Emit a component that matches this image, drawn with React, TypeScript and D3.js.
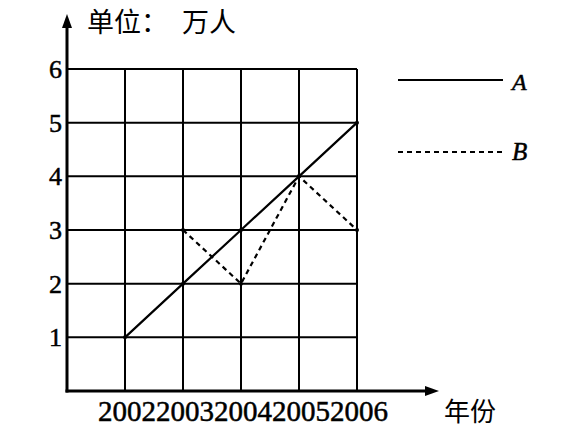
import React from "react";
import * as d3 from "d3";

const years = [2002, 2003, 2004, 2005, 2006];
const yTicks = [1, 2, 3, 4, 5, 6];
const seriesA = [1, 2, 3, 4, 5];
const seriesB = [null, 3, 2, 4, 3];
const yearLabels = ["2002", "2003", "2004", "2005", "2006"];
const legendNames = ["A", "B"];

export default function App() {
  const W = 580, H = 434;
  const x = d3.scaleLinear().domain([2001, 2006]).range([67, 357]);
  const y = d3.scaleLinear().domain([0, 6]).range([391, 69]);
  const serif = "'Liberation Serif', 'DejaVu Serif', serif";
  const cjk = "'Noto Sans CJK SC', sans-serif";

  const lineGen = d3
    .line<{ yr: number; v: number | null }>()
    .defined((d) => d.v != null)
    .x((d) => x(d.yr))
    .y((d) => y(d.v as number));

  const dataA = years.map((yr, i) => ({ yr, v: seriesA[i] }));
  const dataB = years.map((yr, i) => ({ yr, v: seriesB[i] }));
  const heavy = { stroke: "#000", strokeWidth: 0.5 };

  return (
    <svg width={W} height={H} style={{ position: "absolute", left: 0, top: 0, background: "#fff" }}>
      <rect width={W} height={H} fill="#fff" />
      {years.map((yr) => (
        <line key={"v" + yr} x1={x(yr)} x2={x(yr)} y1={y(0)} y2={y(6)} stroke="#000" strokeWidth={2} />
      ))}
      {yTicks.map((t) => (
        <line key={"h" + t} x1={x(2001)} x2={x(2006)} y1={y(t)} y2={y(t)} stroke="#000" strokeWidth={2} />
      ))}
      <line x1={x(2001)} x2={x(2001)} y1={y(0) + 1.5} y2={22} stroke="#000" strokeWidth={3} />
      <path d={`M${x(2001)},14 L${x(2001) - 5},28 L${x(2001) + 5},28 Z`} fill="#000" />
      <line x1={x(2001) - 1.5} x2={430} y1={y(0)} y2={y(0)} stroke="#000" strokeWidth={3} />
      <path d={`M439,${y(0)} L425,${y(0) - 5} L425,${y(0) + 5} Z`} fill="#000" />

      <path d={lineGen(dataA) || ""} fill="none" stroke="#000" strokeWidth={2.2} />
      <path d={lineGen(dataB) || ""} fill="none" stroke="#000" strokeWidth={2.2} strokeDasharray="5,4" />
      {dataA.map((d) => (
        <circle key={"a" + d.yr} cx={x(d.yr)} cy={y(d.v)} r={2} fill="#000" />
      ))}
      {dataB.filter((d) => d.v != null).map((d) => (
        <circle key={"b" + d.yr} cx={x(d.yr)} cy={y(d.v as number)} r={2} fill="#000" />
      ))}

      {yTicks.map((t) => (
        <text key={"yl" + t} x={62} y={y(t) + 9} textAnchor="end" fontFamily={serif} fontSize={26} fill="#000" {...heavy}>
          {t}
        </text>
      ))}
      {years.map((yr, i) => (
        <text key={"xl" + yr} x={x(yr) + 2} y={421} textAnchor="middle" fontFamily={serif} fontSize={29} fill="#000" {...heavy}>
          {yearLabels[i]}
        </text>
      ))}

      <text x={87} y={32} fontFamily={cjk} fontSize={27} fill="#000">
        单位：<tspan dx={14}>万人</tspan>
      </text>
      <text x={444} y={421} fontFamily={cjk} fontSize={26} fill="#000">年份</text>

      <line x1={398} x2={503} y1={80} y2={80} stroke="#000" strokeWidth={2} />
      <text x={512} y={90} fontFamily={serif} fontStyle="italic" fontSize={24} fill="#000" {...heavy}>{legendNames[0]}</text>
      <line x1={398} x2={502} y1={152} y2={152} stroke="#000" strokeWidth={2} strokeDasharray="5,4" />
      <text x={512} y={160} fontFamily={serif} fontStyle="italic" fontSize={25} fill="#000" {...heavy}>{legendNames[1]}</text>
    </svg>
  );
}
